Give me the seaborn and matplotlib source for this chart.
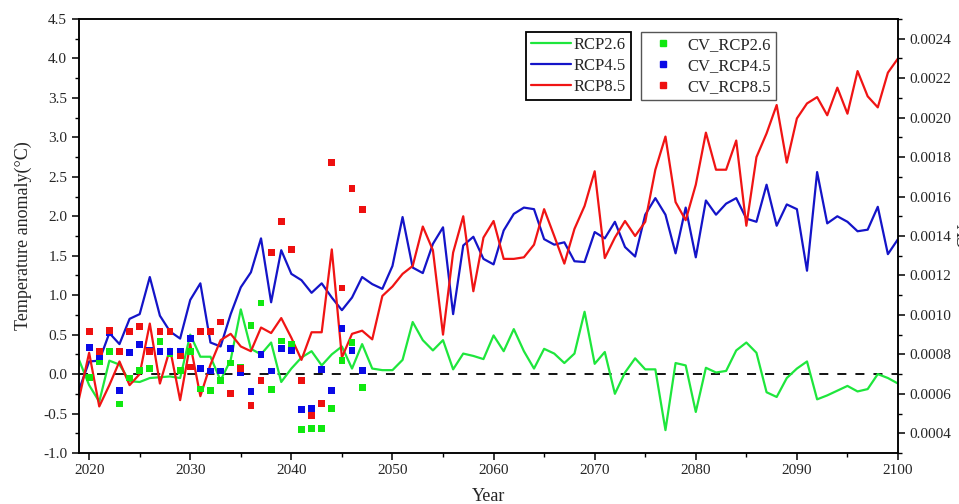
import numpy as np
import pandas as pd
import matplotlib
matplotlib.use("Agg")
import matplotlib.pyplot as plt
from matplotlib.lines import Line2D
from matplotlib.ticker import MultipleLocator
import seaborn as sns

# annual temperature anomaly, 2019-2100
years = list(range(2019, 2101))
rcp26 = [0.18, -0.14, -0.35, 0.17, 0.12, -0.09, -0.10, -0.05, -0.04, -0.03,
         -0.05, 0.50, 0.22, 0.22, -0.08, 0.18, 0.82, 0.32, 0.25, 0.40,
         -0.10, 0.07, 0.21, 0.29, 0.11, 0.25, 0.35, 0.07, 0.38, 0.07,
         0.05, 0.05, 0.18, 0.66, 0.43, 0.30, 0.43, 0.06, 0.26, 0.23,
         0.19, 0.49, 0.29, 0.57, 0.29, 0.07, 0.32, 0.26, 0.14, 0.26,
         0.79, 0.13, 0.28, -0.25, 0.02, 0.20, 0.06, 0.06, -0.71, 0.14,
         0.11, -0.48, 0.08, 0.02, 0.04, 0.30, 0.40, 0.27, -0.23, -0.29,
         -0.05, 0.07, 0.16, -0.32, -0.27, -0.21, -0.15, -0.22, -0.19, 0.00,
         -0.05, -0.12]
rcp45 = [-0.20, 0.16, 0.17, 0.52, 0.38, 0.70, 0.76, 1.23, 0.74, 0.54,
         0.45, 0.94, 1.15, 0.40, 0.35, 0.76, 1.10, 1.29, 1.72, 0.91,
         1.57, 1.27, 1.19, 1.03, 1.15, 0.97, 0.81, 0.97, 1.23, 1.14,
         1.08, 1.37, 1.99, 1.35, 1.28, 1.65, 1.86, 0.76, 1.63, 1.74,
         1.46, 1.39, 1.82, 2.03, 2.11, 2.09, 1.71, 1.64, 1.67, 1.43,
         1.42, 1.80, 1.72, 1.93, 1.61, 1.49, 2.02, 2.23, 2.02, 1.53,
         2.11, 1.48, 2.20, 2.02, 2.16, 2.23, 1.97, 1.93, 2.40, 1.88,
         2.15, 2.09, 1.31, 2.56, 1.91, 2.00, 1.93, 1.81, 1.83, 2.12,
         1.52, 1.71]
rcp85 = [-0.31, 0.27, -0.41, -0.14, 0.16, -0.14, 0.00, 0.64, -0.12, 0.32,
         -0.33, 0.38, -0.28, 0.12, 0.43, 0.51, 0.35, 0.29, 0.59, 0.52,
         0.71, 0.46, 0.18, 0.53, 0.53, 1.58, 0.21, 0.51, 0.55, 0.44,
         0.99, 1.11, 1.27, 1.37, 1.87, 1.57, 0.50, 1.54, 2.00, 1.05,
         1.73, 1.94, 1.46, 1.46, 1.48, 1.64, 2.09, 1.75, 1.40, 1.84,
         2.13, 2.57, 1.47, 1.73, 1.94, 1.75, 1.93, 2.59, 3.01, 2.18,
         1.95, 2.40, 3.06, 2.59, 2.59, 2.96, 1.88, 2.75, 3.05, 3.41,
         2.68, 3.24, 3.43, 3.51, 3.28, 3.63, 3.30, 3.84, 3.52, 3.38,
         3.82, 4.00]

# coefficient of variation, 2020-2047
cv_years = list(range(2020, 2048))
cv_rcp26 = [0.000684, 0.000764, 0.000816, 0.000548, 0.000680, 0.000720, 0.000728,
            0.000864, 0.000804, 0.000720, 0.000816, 0.000624, 0.000616, 0.000668,
            0.000756, 0.000732, 0.000948, 0.001060, 0.000620, 0.000868, 0.000852,
            0.000420, 0.000424, 0.000424, 0.000524, 0.000768, 0.000860, 0.000632]
cv_rcp45 = [0.000836, 0.000788, 0.000908, 0.000616, 0.000808, 0.000848, 0.000820,
            0.000816, 0.000816, 0.000816, 0.000880, 0.000728, 0.000716, 0.000716,
            0.000828, 0.000708, 0.000612, 0.000800, 0.000716, 0.000828, 0.000820,
            0.000520, 0.000524, 0.000724, 0.000616, 0.000932, 0.000820, 0.000720]
cv_rcp85 = [0.000916, 0.000816, 0.000920, 0.000816, 0.000916, 0.000940, 0.000816,
            0.000916, 0.000916, 0.000792, 0.000736, 0.000916, 0.000916, 0.000964,
            0.000600, 0.000728, 0.000540, 0.000668, 0.001316, 0.001472, 0.001332,
            0.000668, 0.000492, 0.000552, 0.001772, 0.001136, 0.001640, 0.001536]

line_names = ["RCP2.6", "RCP4.5", "RCP8.5"]
cv_names = ["CV_RCP2.6", "CV_RCP4.5", "CV_RCP8.5"]
line_colors = ["#1ee63c", "#1414c8", "#f01414"]
dot_colors = ["#10e810", "#0a0ae6", "#ee1010"]

df = pd.DataFrame({"Year": years, "RCP2.6": rcp26, "RCP4.5": rcp45, "RCP8.5": rcp85})
df_long = df.melt(id_vars="Year", var_name="Scenario", value_name="Anomaly")
cv = pd.DataFrame({"Year": cv_years, "CV_RCP2.6": cv_rcp26,
                   "CV_RCP4.5": cv_rcp45, "CV_RCP8.5": cv_rcp85})
cv_long = cv.melt(id_vars="Year", var_name="Series", value_name="CV")

sns.set_style("ticks")
plt.rcParams["font.family"] = ["Liberation Serif", "DejaVu Serif"]
plt.rcParams["axes.linewidth"] = 1.1

fig = plt.figure(figsize=(9.59, 5.04), dpi=100)
ax = fig.add_axes([0.0824, 0.1012, 0.8540, 0.8611])

sns.lineplot(data=df_long, x="Year", y="Anomaly", hue="Scenario",
             palette=dict(zip(line_names, line_colors)), linewidth=1.6,
             legend=False, ax=ax)
ax.axhline(0, color="black", lw=1.3, ls=(0, (5, 5)), zorder=1)

ax2 = ax.twinx()
sns.scatterplot(data=cv_long, x="Year", y="CV", hue="Series",
                palette=dict(zip(cv_names, dot_colors)), marker="s", s=24,
                linewidth=0, legend=False, ax=ax2)

ax.set_xlim(2019, 2100)
ax.set_ylim(-1.0, 4.5)
ax2.set_ylim(0.0003, 0.0025)

ax.xaxis.set_major_locator(MultipleLocator(10))
ax.xaxis.set_minor_locator(MultipleLocator(5))
ax.yaxis.set_major_locator(MultipleLocator(0.5))
ax.yaxis.set_minor_locator(MultipleLocator(0.25))
ax2.set_yticks(np.arange(0.0004, 0.00241, 0.0002))
ax2.yaxis.set_minor_locator(MultipleLocator(0.0001))
ax.yaxis.set_major_formatter(plt.FormatStrFormatter("%.1f"))
ax2.yaxis.set_major_formatter(plt.FormatStrFormatter("%.4f"))

for a in (ax, ax2):
    a.tick_params(which="major", length=5, width=1.1, labelsize=11, color="black")
    a.tick_params(which="minor", length=3, width=1.0, color="black")
    for s in a.spines.values():
        s.set_color("black")
        s.set_linewidth(1.1)
ax.tick_params(axis="x", pad=3)

ax.set_xlabel("Year", fontsize=13, labelpad=8)
ax.set_ylabel("Temperature anomaly(\u00b0C)", fontsize=13, labelpad=8)
# right axis title sits at the very edge of the figure, as in the source
ax2.set_ylabel("CV", fontsize=13, rotation=90)
ax2.yaxis.set_label_coords(1.072, 0.5)

line_handles = [Line2D([], [], color=c, lw=1.6) for c in line_colors]
dot_handles = [Line2D([], [], color=c, marker="s", ls="none", markersize=4.5)
               for c in dot_colors]
leg1 = ax2.legend(line_handles, line_names, loc="upper left",
                  bbox_to_anchor=(0.5485, 0.9365), bbox_transform=fig.transFigure,
                  fontsize=12, frameon=True, fancybox=False, framealpha=1,
                  edgecolor="black", handlelength=2.4, handletextpad=0.15,
                  labelspacing=0.3, borderpad=0.3, borderaxespad=0)
leg1.get_frame().set_linewidth(1.3)
ax2.add_artist(leg1)
leg2 = ax2.legend(dot_handles, cv_names, loc="upper left",
                  bbox_to_anchor=(0.6684, 0.9365), bbox_transform=fig.transFigure,
                  fontsize=12, frameon=True, fancybox=False, framealpha=1,
                  edgecolor="#555555", handlelength=2.0, handletextpad=0.5,
                  labelspacing=0.3, borderpad=0.3, borderaxespad=0)
leg2.get_frame().set_linewidth(1.0)

fig.savefig("out.png", dpi=100)
